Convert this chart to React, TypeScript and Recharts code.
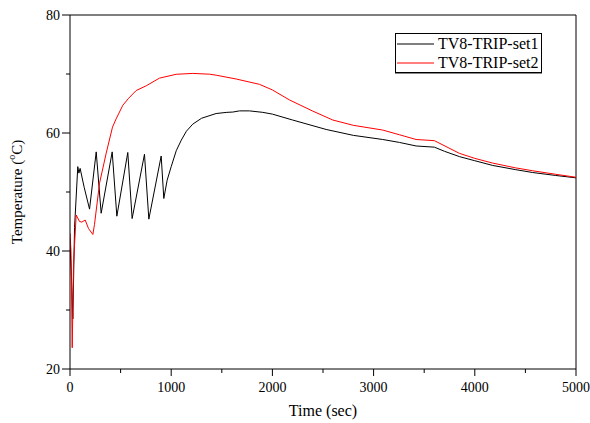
import React from 'react';
import { LineChart, Line, XAxis, YAxis, ReferenceLine, Legend } from 'recharts';

const set1Time = [0, 12, 28, 45, 77, 88, 100, 140, 193, 259, 308, 417, 463, 571, 614, 736, 779, 901, 927, 960, 1000, 1050, 1100, 1150, 1213, 1300, 1444, 1550, 1609, 1675, 1773, 1905, 2000, 2200, 2531, 2800, 3090, 3256, 3420, 3601, 3700, 3848, 4000, 4177, 4400, 4572, 4800, 5000];
const set1Temp = [41, 37, 28.5, 44, 54.3, 53.2, 54.0, 50.8, 47.1, 56.8, 46.4, 56.8, 45.9, 56.7, 45.5, 56.4, 45.4, 56.1, 48.9, 52, 54.3, 57.0, 58.8, 60.3, 61.5, 62.5, 63.3, 63.5, 63.55, 63.75, 63.75, 63.5, 63.2, 62.2, 60.6, 59.6, 58.9, 58.4, 57.8, 57.6, 56.9, 56.0, 55.3, 54.5, 53.8, 53.3, 52.8, 52.4];

const set2Time = [0, 10, 22, 35, 61, 94, 117, 150, 183, 226, 242, 292, 358, 420, 456, 522, 580, 654, 753, 884, 1049, 1213, 1378, 1444, 1642, 1872, 2000, 2169, 2400, 2597, 2800, 3090, 3256, 3420, 3601, 3848, 4000, 4177, 4400, 4572, 4800, 5000];
const set2Temp = [43, 40, 23.6, 38, 46.1, 45.0, 44.9, 45.25, 43.8, 42.8, 44.5, 51.5, 56.6, 61.0, 62.4, 64.7, 65.9, 67.2, 68.0, 69.3, 69.95, 70.1, 69.97, 69.8, 69.15, 68.25, 67.3, 65.6, 63.7, 62.2, 61.3, 60.5, 59.7, 58.9, 58.7, 56.55, 55.7, 54.9, 54.1, 53.6, 53.0, 52.5];

const xTicks = [0, 500, 1000, 1500, 2000, 2500, 3000, 3500, 4000, 4500, 5000];
const yTicks = [20, 30, 40, 50, 60, 70, 80];
const seriesNames = ['TV8-TRIP-set1', 'TV8-TRIP-set2'];
const seriesColors = ['#000000', '#ff0000'];

const data1 = set1Time.map((t, i) => ({ t, v: set1Temp[i] }));
const data2 = set2Time.map((t, i) => ({ t, v: set2Temp[i] }));

const FONT = '"Liberation Serif", "Times New Roman", serif';

const XTick = (props: any) => {
  const { x, y, payload } = props;
  const major = payload.value % 1000 === 0;
  return (
    <g>
      <line x1={x} x2={x} y1={y} y2={y + (major ? 7 : 4)} stroke="#000" strokeWidth={1} />
      {major && (
        <text x={x} y={y + 23} textAnchor="middle" fontFamily={FONT} fontSize={14} fill="#000">
          {payload.value}
        </text>
      )}
    </g>
  );
};

const YTick = (props: any) => {
  const { x, y, payload } = props;
  const major = payload.value % 20 === 0;
  return (
    <g>
      <line x1={x} x2={x - (major ? 8 : 4)} y1={y} y2={y} stroke="#000" strokeWidth={1} />
      {major && (
        <text x={x - 10} y={y + 5} textAnchor="end" fontFamily={FONT} fontSize={14} fill="#000">
          {payload.value}
        </text>
      )}
    </g>
  );
};

const YLabel = (props: any) => {
  const vb = props.viewBox || { x: 0, y: 15, width: 70, height: 354 };
  const cx = vb.x + 17;
  const cy = vb.y + vb.height / 2;
  return (
    <text
      x={cx}
      y={cy}
      transform={`rotate(-90, ${cx}, ${cy})`}
      textAnchor="middle"
      dominantBaseline="central"
      fontFamily={FONT}
      fontSize={15}
      fill="#000"
    >
      Temperature (<tspan dy={-6} fontSize={10}>o</tspan>
      <tspan dy={6}>C)</tspan>
    </text>
  );
};

const XLabel = (props: any) => {
  const vb = props.viewBox || { x: 70, y: 369, width: 506, height: 30 };
  return (
    <text x={vb.x + vb.width / 2} y={vb.y + 47} textAnchor="middle" fontFamily={FONT} fontSize={16} fill="#000">
      Time (sec)
    </text>
  );
};

const LegendBox = () => (
  <div
    style={{
      border: '1px solid #000',
      boxShadow: '0 1px 0 #888',
      background: '#fff',
      fontFamily: FONT,
      fontSize: 16,
      color: '#000',
      padding: '0 3px 0 1px',
      lineHeight: '19px',
      width: 'max-content',
    }}
  >
    {seriesNames.map((n, i) => (
      <div key={n} style={{ display: 'flex', alignItems: 'center', height: 19 }}>
        <svg width={37} height={19} style={{ marginRight: 4 }}>
          <line x1={0} x2={37} y1={10} y2={10} stroke={seriesColors[i]} strokeWidth={1} />
        </svg>
        <span>{n}</span>
      </div>
    ))}
  </div>
);

export default function App() {
  return (
    <div style={{ position: 'absolute', left: 0, top: 0, width: 590, height: 423, background: '#fff' }}>
      <LineChart width={590} height={423} margin={{ top: 15, right: 14, bottom: 24, left: 0 }}>
        <XAxis
          dataKey="t"
          type="number"
          domain={[0, 5000]}
          ticks={xTicks}
          interval={0}
          tickSize={0}
          tickMargin={0}
          tick={<XTick />}
          axisLine={{ stroke: '#000', strokeWidth: 1 }}
          tickLine={false}
          height={30}
          allowDataOverflow
          label={<XLabel />}
        />
        <YAxis
          type="number"
          domain={[20, 80]}
          ticks={yTicks}
          interval={0}
          tickSize={0}
          tickMargin={0}
          tick={<YTick />}
          axisLine={{ stroke: '#000', strokeWidth: 1 }}
          tickLine={false}
          width={70}
          allowDataOverflow
          label={<YLabel />}
        />
        <ReferenceLine y={80} stroke="#000" strokeWidth={1} />
        <ReferenceLine x={5000} stroke="#000" strokeWidth={1} />
        <Legend
          layout="vertical"
          align="center"
          verticalAlign="middle"
          content={<LegendBox />}
          wrapperStyle={{ left: 395, top: 33, width: 'auto' }}
        />
        <Line data={data1} dataKey="v" name={seriesNames[0]} stroke={seriesColors[0]} strokeWidth={1} dot={false} type="linear" isAnimationActive={false} />
        <Line data={data2} dataKey="v" name={seriesNames[1]} stroke={seriesColors[1]} strokeWidth={1} dot={false} type="linear" isAnimationActive={false} />
      </LineChart>
    </div>
  );
}
